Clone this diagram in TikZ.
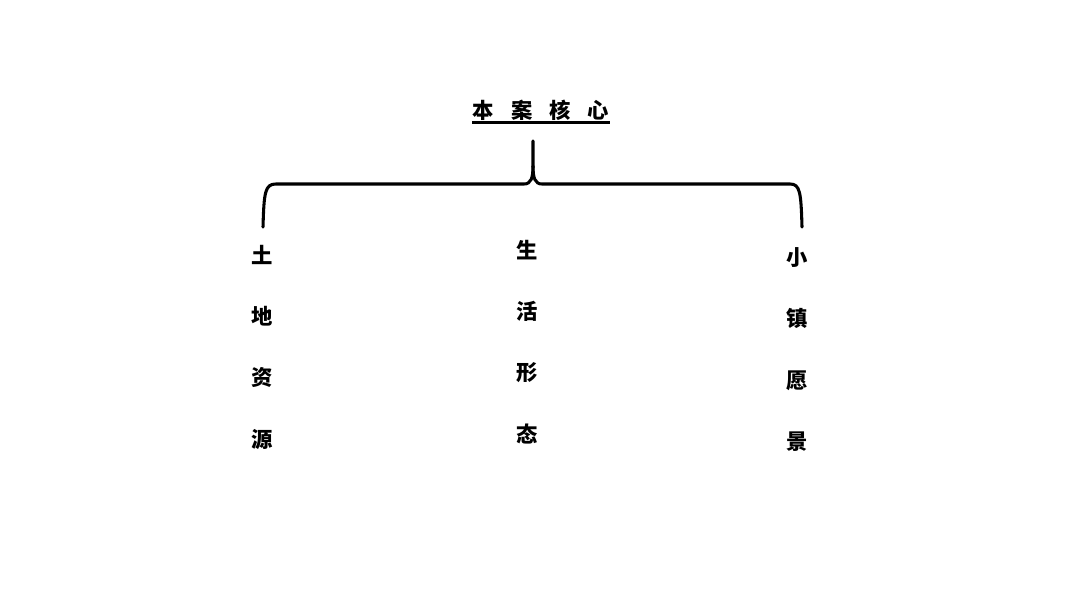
\documentclass[tikz,border=0pt]{standalone}
\usepackage{fontspec}
\newfontfamily\cjkfont{Noto Sans CJK SC}
\usetikzlibrary{positioning}

\begin{document}
\begin{tikzpicture}[x=0.75pt,y=-0.75pt,
	label text/.style={font=\cjkfont\bfseries\fontsize{16}{46}\selectfont, align=center, inner sep=0pt},
	brace line/.style={line width=2.3pt, line cap=round, line join=round}]
	\useasboundingbox (0,0) rectangle (1080,608);
	% title
	\node[label text] (Core) at (541,110) {本\hspace{0.8em}案\hspace{0.8em}核\hspace{0.8em}心} ;
	\draw[line width=1.9pt] ([yshift=-1.5pt]Core.south west) -- ([yshift=-1.5pt]Core.south east) ;
	% columns
	\node[label text] (Land) at (262,347) {土\\地\\资\\源} ;
	\node[label text] (Life) at (527,342) {生\\活\\形\\态} ;
	\node[label text] (Town) at (797,349.5) {小\\镇\\愿\\景} ;
	% brace
	\coordinate (BraceTip) at (533,141) ;
	\coordinate (BraceMid) at (533,166) ;
	\coordinate (BraceL) at (263,227) ;
	\coordinate (BraceR) at (802,227) ;
	\draw[brace line] (BraceL) .. controls (264,192) and (265,184) .. (276,184) -- (524,184) .. controls (531,184) and (533,178) .. (BraceMid) -- (BraceTip) ;
	\draw[brace line] (BraceR) .. controls (801,192) and (800,184) .. (790,184) -- (542,184) .. controls (535,184) and (533,178) .. (BraceMid) ;
\end{tikzpicture}
\end{document}
